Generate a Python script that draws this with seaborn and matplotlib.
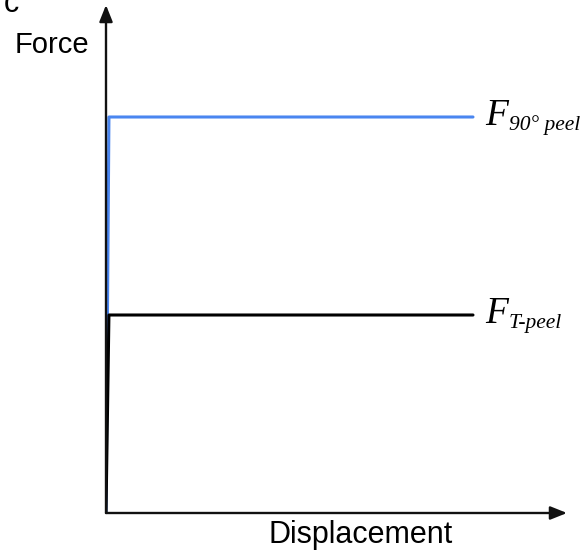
import pandas as pd
import matplotlib
matplotlib.use('Agg')
import matplotlib.pyplot as plt
import seaborn as sns

# schematic force-displacement curves (force relative to the 90 deg peel plateau)
disp_90 = [0, 0.008, 1.0]
force_90 = [0, 1.0, 1.0]
disp_t = [0, 0.008, 1.0]
force_t = [0, 0.5, 0.5]
series_names = ['90° peel', 'T-peel']
label_main = ['F', 'F']
label_sub = ['90° peel', 'T-peel']

df = pd.concat([
    pd.DataFrame({'disp': disp_90, 'force': force_90, 'series': series_names[0]}),
    pd.DataFrame({'disp': disp_t, 'force': force_t, 'series': series_names[1]}),
])

sns.set_style('white')
plt.rcParams['font.family'] = ['Liberation Sans', 'DejaVu Sans']
plt.rcParams['text.color'] = 'black'

fig = plt.figure(figsize=(5.84, 5.51), dpi=100)
ax = fig.add_axes([106 / 584, 38 / 551, 461 / 584, 508 / 551])

sns.lineplot(data=df, x='disp', y='force', hue='series', sort=False, estimator=None,
             palette={series_names[0]: '#4a86f0', series_names[1]: 'black'},
             linewidth=2.2, legend=False, ax=ax)

ax.set_xlim(0, 461 / 367)
ax.set_ylim(0, 508 / 396)
ax.set_xticks([])
ax.set_yticks([])
for s in ax.spines.values():
    s.set_visible(False)
ax.set_xlabel('')
ax.set_ylabel('')

# axis arrows
arrow = dict(arrowstyle='-|>,head_length=1.0,head_width=0.4', color='#111111', lw=1.7,
             shrinkA=0, shrinkB=0)
ax.annotate('', xy=(1, 0), xytext=(0, 0), xycoords='axes fraction', arrowprops=arrow,
            annotation_clip=False)
ax.annotate('', xy=(0, 1), xytext=(0, 0), xycoords='axes fraction', arrowprops=arrow,
            annotation_clip=False)

# curve labels: italic serif F with a smaller italic subscript
serif = dict(family='Liberation Serif', style='italic', va='baseline', ha='left',
             textcoords='offset points', annotation_clip=False, color='black')
for lvl, main, sub in zip([force_90[-1], force_t[-1]], label_main, label_sub):
    anchor = (disp_90[-1] + 0.033, lvl)
    ax.annotate(main, xy=anchor, xytext=(0, -5.8), fontsize=27, **serif)
    ax.annotate(sub, xy=anchor, xytext=(17, -9.4), fontsize=15.5, **serif)

fig.text(361 / 584, 1 - 535 / 551, 'Displacement', fontsize=22, ha='center', va='center')
fig.text(52 / 584, 1 - 45 / 551, 'Force', fontsize=21, ha='center', va='center')
fig.text(4 / 584, 1 - 12 / 551, 'c', fontsize=22, ha='left', va='baseline')

fig.savefig('out.png', dpi=100)
